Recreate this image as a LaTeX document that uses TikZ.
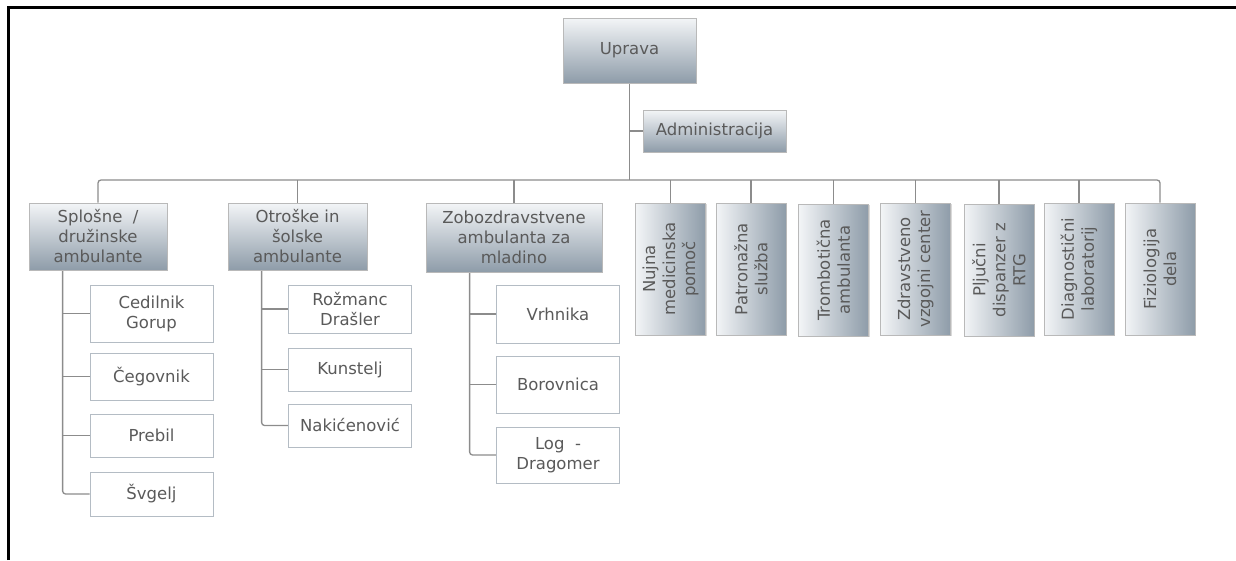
\documentclass[tikz,border=0pt]{standalone}
\usepackage{fontspec}
\setmainfont{DejaVu Sans}
\usetikzlibrary{positioning,shadows}
\pgfdeclarelayer{background}
\pgfsetlayers{background,main}
\definecolor{boxlight}{HTML}{F3F5F7}
\definecolor{boxdark}{HTML}{8E9CA9}
\definecolor{textgray}{HTML}{5A5A5A}
\definecolor{linegray}{HTML}{8C8C8C}
\definecolor{leafline}{HTML}{B4BCC4}

\begin{document}
\begin{tikzpicture}[x=1pt,y=-1pt,
					unitbox/.style={draw=gray!55, line width=0.8pt, top color=boxlight, bottom color=boxdark, text=textgray, align=center, inner sep=2pt, font=\fontsize{16.5}{20}\selectfont, drop shadow={shadow xshift=1.2pt, shadow yshift=-1.2pt, opacity=0.3, fill=gray}},
					sidebox/.style={unitbox, left color=boxlight, right color=boxdark, rotate=90, minimum width=132pt, minimum height=70pt},
					leafbox/.style={draw=leafline, line width=1pt, fill=white, text=textgray, align=center, inner sep=2pt, minimum width=123pt, font=\fontsize{16.5}{20}\selectfont},
					conn/.style={draw=linegray, line width=1.3pt, rounded corners=3pt},
					]
					\useasboundingbox (0,0) rectangle (1236,560);
					%Frame
					\draw[line width=3pt] (8,560) -- (8,7) -- (1236,7);
					
					%Top
					\node[unitbox, minimum width=133pt, minimum height=65pt] (uprava) at (629.5,50.5) {Uprava};
					\node[unitbox, minimum width=143pt, minimum height=42pt] (admin)  at (714.5,131)  {Administracija};
					\coordinate (bus) at (629.5,180);
					
					%Departments
					\node[unitbox, minimum width=138pt, minimum height=67pt] (splosne) at (98,236.5)   {Splošne~~/\\družinske\\ambulante};
					\node[unitbox, minimum width=139pt, minimum height=67pt] (otroske) at (297.5,236.5) {Otroške in\\šolske\\ambulante};
					\node[unitbox, minimum width=176pt, minimum height=69pt] (zobo)    at (514,237.5)  {Zobozdravstvene\\ambulanta za\\mladino};
					
					\node[sidebox] (nujna)       at (670.5,269) {Nujna\\medicinska\\pomoč};
					\node[sidebox] (patronazna)  at (751,269)   {Patronažna\\služba};
					\node[sidebox] (trombotic)   at (833.5,270) {Trombotična\\ambulanta};
					\node[sidebox] (zdravstveno) at (915.5,269) {Zdravstveno\\vzgojni center};
					\node[sidebox] (pljucni)     at (999,270)   {Pljučni\\dispanzer z\\RTG};
					\node[sidebox] (diagnostic)  at (1079,269)  {Diagnostični\\laboratorij};
					\node[sidebox] (fiziologija) at (1160,269)  {Fiziologija\\dela};
					
					%Leaves
					\node[leafbox, minimum height=57pt] (cedilnik) at (151.5,313.5) {Cedilnik\\Gorup};
					\node[leafbox, minimum height=47pt] (cegovnik) at (151.5,376.5) {Čegovnik};
					\node[leafbox, minimum height=43pt] (prebil)   at (151.5,435.5) {Prebil};
					\node[leafbox, minimum height=44pt] (svgelj)   at (151.5,494)   {Švgelj};
					
					\node[leafbox, minimum height=48pt] (rozmanc)     at (350,309)   {Rožmanc\\Drašler};
					\node[leafbox, minimum height=43pt] (kunstelj)    at (350,369.5) {Kunstelj};
					\node[leafbox, minimum height=43pt] (nakicenovic) at (350,425.5) {Nakićenović};
					
					\node[leafbox, minimum height=58pt] (vrhnika)   at (558,314)   {Vrhnika};
					\node[leafbox, minimum height=57pt] (borovnica) at (558,384.5) {Borovnica};
					\node[leafbox, minimum height=56pt] (logdrag)   at (558,455)   {Log~~-\\Dragomer};
					
					\begin{pgfonlayer}{background}
					%Lines
					\draw[conn] (uprava) -- (bus);
					\draw[conn] (admin.west) -- (admin.west -| bus);
					\draw[conn] (splosne) |- (bus) -| (fiziologija);
					\draw[conn] (otroske) -- (otroske |- bus);
					\draw[conn] (zobo) -- (zobo |- bus);
					\draw[conn] (nujna) -- (nujna |- bus);
					\draw[conn] (patronazna) -- (patronazna |- bus);
					\draw[conn] (trombotic) -- (trombotic |- bus);
					\draw[conn] (zdravstveno) -- (zdravstveno |- bus);
					\draw[conn] (pljucni) -- (pljucni |- bus);
					\draw[conn] (diagnostic) -- (diagnostic |- bus);
					
					\coordinate[right=34pt of splosne.south west] (t1);
					\draw[conn] (t1) |- (svgelj.west);
					\draw[conn] (cedilnik.west) -- (cedilnik.west -| t1);
					\draw[conn] (cegovnik.west) -- (cegovnik.west -| t1);
					\draw[conn] (prebil.west) -- (prebil.west -| t1);
					
					\coordinate[right=34pt of otroske.south west] (t2);
					\draw[conn] (t2) |- (nakicenovic.west);
					\draw[conn] (rozmanc.west) -- (rozmanc.west -| t2);
					\draw[conn] (kunstelj.west) -- (kunstelj.west -| t2);
					
					\coordinate[right=44pt of zobo.south west] (t3);
					\draw[conn] (t3) |- (logdrag.west);
					\draw[conn] (vrhnika.west) -- (vrhnika.west -| t3);
					\draw[conn] (borovnica.west) -- (borovnica.west -| t3);
					\end{pgfonlayer}
				\end{tikzpicture}
\end{document}
